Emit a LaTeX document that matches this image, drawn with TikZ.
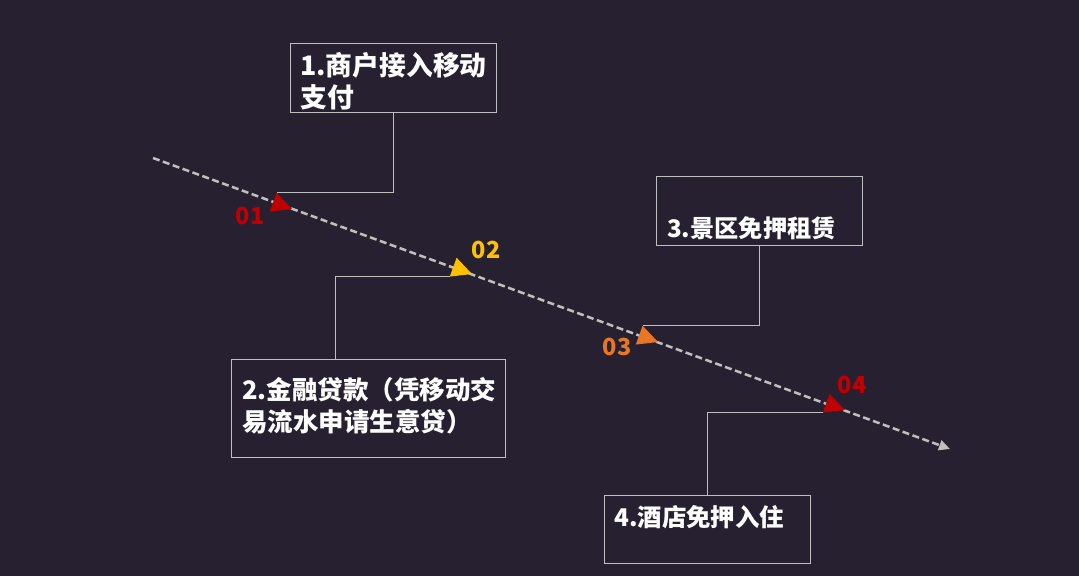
\documentclass[tikz,border=0pt]{standalone}
\usepackage{fontspec}
\setmainfont{Noto Sans CJK SC}
\usetikzlibrary{arrows.meta}
\definecolor{bgc}{HTML}{272030}
\definecolor{linec}{HTML}{BFBFBF}
\definecolor{redc}{HTML}{C00000}
\definecolor{yelc}{HTML}{FFC000}
\definecolor{orac}{HTML}{E97624}
\tikzset{
  box/.style={draw=linec, line width=0.9pt, anchor=north west, inner sep=0pt},
  boxtext/.style={anchor=west, text=white, align=left, inner sep=0pt},
  tag/.style={font=\bfseries\fontsize{23.5}{26}\selectfont, inner sep=0pt},
  conn/.style={draw=linec, line width=0.9pt},
  timeline/.style={draw=linec, line width=2.5pt, dash pattern=on 7pt off 3.5pt, -{Stealth[length=11pt,width=10pt,inset=0pt]}}
}
\begin{document}
\begin{tikzpicture}[x=1pt,y=-1pt]
\fill[bgc] (0,0) rectangle (1079,576);
\useasboundingbox (0,0) rectangle (1079,576);

% boxes
\node[box, minimum width=206pt, minimum height=69pt] (b1) at (290,43) {};
\node[boxtext, font=\bfseries\fontsize{26.8}{32}\selectfont] (x1) at (300,81) {1.商户接入移动\\支付};
\node[box, minimum width=274pt, minimum height=98pt] (b2) at (231,359) {};
\node[boxtext, font=\bfseries\fontsize{25.5}{32}\selectfont] (x2) at (242,406) {2.金融贷款（凭移动交\\易流水申请生意贷）};
\node[box, minimum width=206pt, minimum height=69pt] (b3) at (656,176) {};
\node[boxtext, font=\bfseries\fontsize{24.2}{30}\selectfont] (x3) at (667,228) {3.景区免押租赁};
\node[box, minimum width=206pt, minimum height=68pt] (b4) at (604,495) {};
\node[boxtext, font=\bfseries\fontsize{24.4}{30}\selectfont] (x4) at (614,517) {4.酒店免押入住};
\coordinate (k2) at (335,359);

% timeline
\coordinate (s) at (153,158);
\coordinate (e) at (950,449);
\draw[timeline] (s) -- (e);

% markers
\coordinate (t1) at (292,209);
\coordinate (t2) at (472,274);
\coordinate (t3) at (658,342);
\coordinate (t4) at (845,410);
\fill[redc] (t1) -- ++(-15.4,-16.25) coordinate (t1a) -- ++(-6.8,18.8) coordinate (t1b) -- cycle;
\fill[yelc] (t2) -- ++(-15.4,-16.25) coordinate (t2a) -- ++(-6.8,18.8) coordinate (t2b) -- cycle;
\fill[orac] (t3) -- ++(-15.4,-16.25) coordinate (t3a) -- ++(-6.8,18.8) coordinate (t3b) -- cycle;
\fill[redc] (t4) -- ++(-15.4,-16.25) coordinate (t4a) -- ++(-6.8,18.8) coordinate (t4b) -- cycle;

% connectors
\draw[conn] (b1.south) |- (t1a);
\draw[conn] (k2) |- (t2b);
\draw[conn] (b3.south) |- (t3a);
\draw[conn] (b4.north) |- (t4b);

% labels
\node[tag, text=redc] (l1) at (250,216) {01};
\node[tag, text=yelc] (l2) at (486,250) {02};
\node[tag, text=orac] (l3) at (617,347) {03};
\node[tag, text=redc] (l4) at (852,385) {04};
\end{tikzpicture}
\end{document}
